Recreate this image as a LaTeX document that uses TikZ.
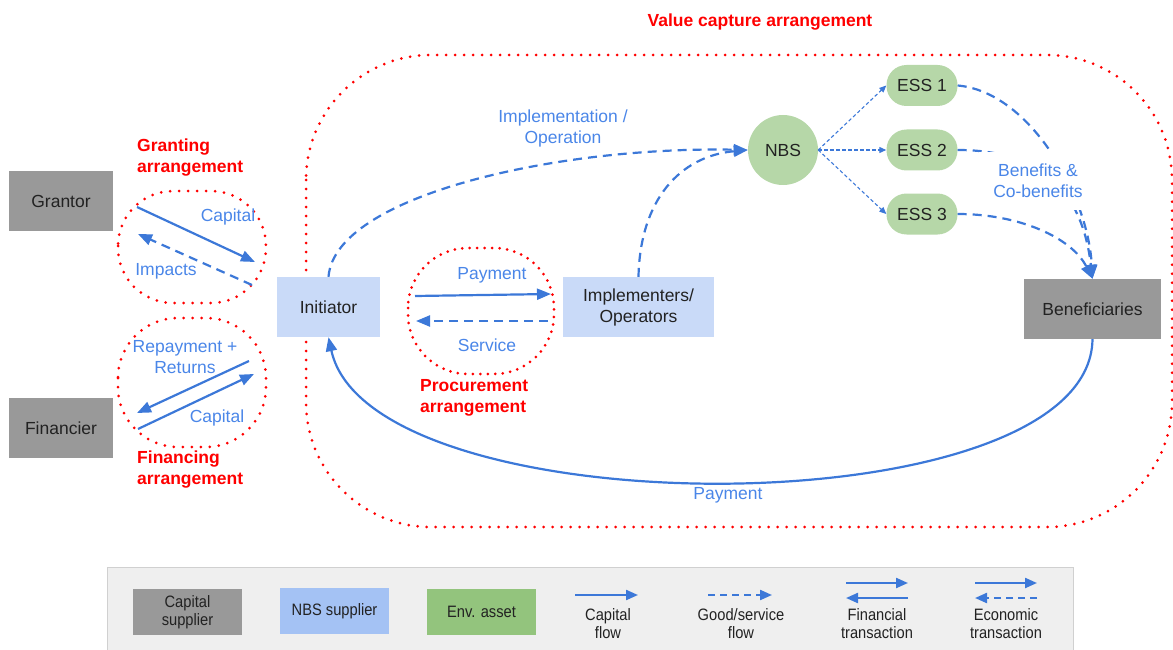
\documentclass[tikz,border=0pt]{standalone}
\usepackage{fontspec}
\setmainfont{Liberation Sans}
\newfontfamily\narrowfont[FakeStretch=0.89]{Liberation Sans}
\usetikzlibrary{arrows.meta}
\definecolor{lineblue}{HTML}{3C78D8}
\definecolor{textblue}{HTML}{4A86E8}
\definecolor{capgray}{HTML}{999999}
\definecolor{nbsblue}{HTML}{C9DAF8}
\definecolor{envgreen}{HTML}{B6D7A8}
\definecolor{legblue}{HTML}{A4C2F4}
\definecolor{leggreen}{HTML}{93C47D}
\definecolor{legbg}{HTML}{EFEFEF}
\definecolor{legborder}{HTML}{D0D0D0}
\definecolor{ink}{HTML}{222222}
\newcommand\mfs{\fontsize{17.5}{21}\selectfont}
\newcommand\lfs{\narrowfont\fontsize{16.5}{18}\selectfont}
\tikzset{
  graybox/.style={fill=capgray, minimum width=104pt, minimum height=60pt, inner sep=0pt, font=\mfs, text=ink},
  bluebox/.style={fill=nbsblue, minimum height=60pt, inner sep=0pt, font=\mfs, text=ink, align=center},
  essbox/.style={fill=envgreen, rounded corners=20pt, minimum width=71pt, minimum height=41pt, inner sep=0pt, font=\mfs, text=ink},
  lbl/.style={text=textblue, font=\mfs, align=center, inner sep=0pt},
  redlbl/.style={text=red, font=\mfs\bfseries, align=left, inner sep=0pt},
  reddot/.style={draw=red, line width=3pt, line cap=round, dash pattern=on 0pt off 9pt},
  capflow/.style={draw=lineblue, line width=2.2pt, -{Triangle[length=14pt,width=11pt]}},
  goodflow/.style={draw=lineblue, line width=2.2pt, dash pattern=on 9pt off 6pt, -{Triangle[length=14pt,width=11pt]}},
  thinflow/.style={draw=lineblue, line width=1.1pt, dash pattern=on 3.5pt off 2.5pt, -{Triangle[length=7pt,width=6pt]}},
  legbox/.style={minimum height=46pt, inner sep=0pt, font=\lfs, text=ink, align=center},
  leglbl/.style={font=\lfs, text=ink, align=center, inner sep=0pt},
}
\begin{document}
\begin{tikzpicture}[x=1pt,y=-1pt]
\useasboundingbox (0,0) rectangle (1173,650);

% arrangement outlines
\draw[reddot, rounded corners=125pt] (306,55) rectangle (1172,527);
\draw[reddot, rounded corners=55pt] (118,191) rectangle (266,303);
\draw[reddot, rounded corners=60pt] (118,318) rectangle (266,447);
\draw[reddot, rounded corners=60pt, dash pattern=on 0pt off 7.5pt] (408,248) rectangle (554,374);

\node[redlbl, align=center] (vlab) at (760,22) {Value capture arrangement};
\node[redlbl, anchor=west] (glab) at (137,158) {Granting\\arrangement};
\node[redlbl, anchor=west] (flab) at (137,470) {Financing\\arrangement};
\node[redlbl, anchor=west] (plab) at (420,398) {Procurement\\arrangement};

% nodes
\node[graybox] (grantor) at (61,201) {Grantor};
\node[graybox] (financier) at (61,428) {Financier};
\node[bluebox, minimum width=103pt] (init) at (328.5,307) {Initiator};
\node[bluebox, minimum width=151pt] (impl) at (638.5,307) {Implementers/\\Operators};
\node[circle, fill=envgreen, minimum size=70pt, inner sep=0pt, font=\mfs, text=ink] (nbs) at (783,150) {NBS};
\node[essbox] (ess1) at (922,85.5) {ESS 1};
\node[essbox] (ess2) at (922,150) {ESS 2};
\node[essbox] (ess3) at (922,214) {ESS 3};
\node[graybox, minimum width=137pt] (benef) at (1092.5,309) {Beneficiaries};

% granting arrangement
\coordinate (g1) at (137,207);
\coordinate (g2) at (255,262);
\coordinate (i1) at (252,285);
\coordinate (i2) at (138,234);
\draw[capflow] (g1) -- (g2);
\draw[goodflow] (i1) -- (i2);
\node[lbl] (gcap) at (228,217) {Capital};
\node[lbl] (gimp) at (166,271) {Impacts};

% financing arrangement
\coordinate (r1) at (249,361);
\coordinate (r2) at (137,413);
\coordinate (c1) at (138,429);
\coordinate (c2) at (254,374);
\draw[capflow] (r1) -- (r2);
\draw[capflow] (c1) -- (c2);
\node[lbl] (frep) at (185,357.5) {Repayment +\\Returns};
\node[lbl] (fcap) at (217,418) {Capital};

% procurement arrangement
\coordinate (p1) at (415,296);
\coordinate (p2) at (551,294);
\coordinate (s1) at (548,321);
\coordinate (s2) at (416,321);
\draw[capflow] (p1) -- (p2);
\draw[goodflow] (s1) -- (s2);
\node[lbl] (ppay) at (492,275) {Payment};
\node[lbl] (pserv) at (487,345) {Service};

% implementation
\draw[goodflow] (init.north) .. controls (335,195) and (560,146) .. (nbs.west);
\draw[goodflow] (impl.north) .. controls (640,200) and (680,156) .. (nbs.west);
\node[lbl] (implab) at (563,128.5) {Implementation /\\Operation};

% NBS to ESS
\draw[thinflow] (nbs.east) -- (ess1.west);
\draw[thinflow] (nbs.east) -- (ess2.west);
\draw[thinflow] (nbs.east) -- (ess3.west);

% ESS to beneficiaries
\draw[goodflow] (ess1.east) .. controls (1030,92) and (1088,195) .. (benef.north);
\draw[goodflow] (ess2.east) .. controls (1040,150) and (1082,190) .. (benef.north);
\draw[goodflow] (ess3.east) .. controls (1020,214) and (1072,238) .. (benef.north);
\node[lbl, fill=white, inner xsep=14pt, inner ysep=12pt] (benlab) at (1038,181) {Benefits \&\\Co-benefits};

% payment
\draw[capflow] (benef.south) .. controls (1090,530) and (370,530) .. (init.south);
\node[lbl] (paylab) at (728,495) {Payment};

% legend
\draw[fill=legbg, draw=legborder, line width=1pt] (107,567) rectangle (1073,660);
\node[legbox, fill=capgray, minimum width=109pt] (lcap) at (187.5,612) {Capital\\supplier};
\node[legbox, fill=legblue, minimum width=109pt] (lnbs) at (334.5,611) {NBS supplier};
\node[legbox, fill=leggreen, minimum width=109pt] (lenv) at (481.5,611.5) {Env. asset};
\coordinate (a1) at (575,595);
\coordinate (a2) at (638,595);
\draw[capflow, -{Triangle[length=12pt,width=10pt]}] (a1) -- (a2);
\node[leglbl] (lcf) at (608,624) {Capital\\flow};
\coordinate (b1) at (708,595);
\coordinate (b2) at (772,595);
\draw[goodflow, dash pattern=on 7pt off 5pt, -{Triangle[length=12pt,width=10pt]}] (b1) -- (b2);
\node[leglbl] (lgf) at (741,624) {Good/service\\flow};
\coordinate (f1) at (846,583);
\coordinate (f2) at (908,583);
\coordinate (f3) at (908,598);
\coordinate (f4) at (846,598);
\draw[capflow, -{Triangle[length=12pt,width=10pt]}] (f1) -- (f2);
\draw[capflow, -{Triangle[length=12pt,width=10pt]}] (f3) -- (f4);
\node[leglbl] (lft) at (877,624) {Financial\\transaction};
\coordinate (e1) at (975,583);
\coordinate (e2) at (1037,583);
\coordinate (e3) at (1037,598);
\coordinate (e4) at (975,598);
\draw[capflow, -{Triangle[length=12pt,width=10pt]}] (e1) -- (e2);
\draw[goodflow, dash pattern=on 7pt off 5pt, -{Triangle[length=12pt,width=10pt]}] (e3) -- (e4);
\node[leglbl] (let) at (1006,624) {Economic\\transaction};
\end{tikzpicture}
\end{document}
